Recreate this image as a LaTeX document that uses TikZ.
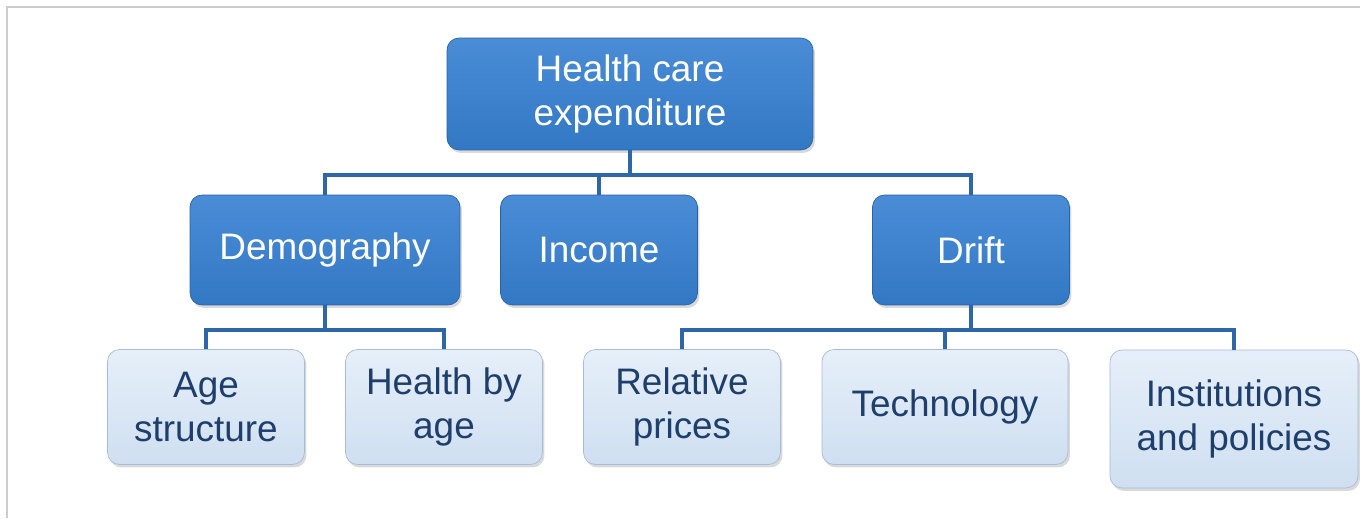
\documentclass[tikz,border=0pt]{standalone}
\usepackage{fontspec}
\setmainfont{Liberation Sans}
\usepackage{tikz}
\usetikzlibrary{positioning, shadows}
\definecolor{boxblue}{HTML}{3378C4}
\definecolor{boxbluetop}{HTML}{4A8CD6}
\definecolor{boxblueedge}{HTML}{2A62A6}
\definecolor{leafblue}{HTML}{CFDFF1}
\definecolor{leafbluetop}{HTML}{E6EFF9}
\definecolor{leafedge}{HTML}{A7BCD6}
\definecolor{leaftext}{HTML}{1E3E6C}
\definecolor{linkblue}{HTML}{2E66AA}
\tikzset {
    mainbox/.style = {
        draw = boxblueedge,
        top color = boxbluetop,
        bottom color = boxblue,
        rounded corners = 0.24cm,
        align = center,
        text = white,
        font = \fontsize{21}{25}\selectfont,
        drop shadow = {opacity=0.3, shadow xshift=0.04cm, shadow yshift=-0.06cm},
        inner sep = 0pt
    },
    leafbox/.style = {
        draw = leafedge,
        top color = leafbluetop,
        bottom color = leafblue,
        rounded corners = 0.24cm,
        align = center,
        text = leaftext,
        font = \fontsize{21}{25}\selectfont,
        drop shadow = {opacity=0.3, shadow xshift=0.04cm, shadow yshift=-0.06cm},
        inner sep = 0pt,
        minimum width = 3.94cm,
        minimum height = 2.3cm
    },
    link/.style = {
        draw = linkblue,
        line width = 2.3pt
    },
    frame/.style = {
        draw = black!20,
        line width = 0.8pt
    }
}
\begin{document}
\begin{tikzpicture}[x=0.02cm, y=-0.02cm]
        \useasboundingbox (0,0) rectangle (1360,518);
        % Thin frame at the top and on the left
        \draw [frame] (7,518) -- (7,7) -- (1360,7);

        % Top row : total expenditure
        \node [mainbox, minimum width=7.32cm, minimum height=2.24cm] (hce)    at (630,94)  {Health care\\expenditure};

        % Second row : demography, income, drift
        \node [mainbox, minimum width=5.4cm, minimum height=2.2cm]   (demog)  at (325,250) {Demography};
        \node [mainbox, minimum width=3.94cm, minimum height=2.2cm]  (income) at (599,250) {Income};
        \node [mainbox, minimum width=3.94cm, minimum height=2.2cm]  (drift)  at (971,250) {Drift};

        % Third row : leaves
        \node [leafbox]                                      (agestr)  at (206,407) {Age\\structure};
        \node [leafbox]                                      (hbyage)  at (444,407) {Health by\\age};
        \node [leafbox]                                      (relpr)   at (682,407) {Relative\\prices};
        \node [leafbox, minimum width=4.92cm]                (techn)   at (945,407) {Technology};
        \node [leafbox, minimum width=4.96cm, minimum height=2.76cm] (instit) at (1234,419) {Institutions\\and policies};

        % Bus lines
        \coordinate (bus1) at (0,175);
        \coordinate (bus2) at (0,330);

        \path [link]  (hce.south)    --  (hce.south |- bus1);
        \path [link]  (demog.north)  --  (demog.north |- bus1)  -|  (drift.north);
        \path [link]  (income.north) --  (income.north |- bus1);

        \path [link]  (demog.south)  --  (demog.south |- bus2);
        \path [link]  (agestr.north) --  (agestr.north |- bus2) -|  (hbyage.north);

        \path [link]  (drift.south)  --  (drift.south |- bus2);
        \path [link]  (relpr.north)  --  (relpr.north |- bus2)  -|  (instit.north);
        \path [link]  (techn.north)  --  (techn.north |- bus2);
    \end{tikzpicture}
\end{document}
